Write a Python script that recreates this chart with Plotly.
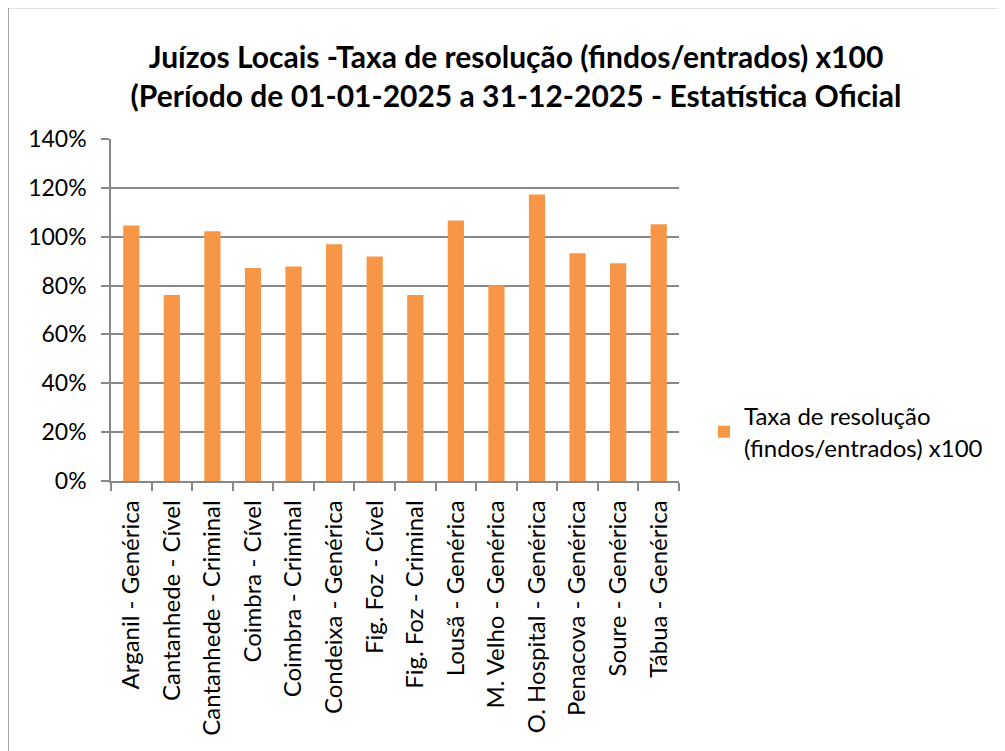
import plotly.graph_objects as go

categories = [
    "Arganil - Genérica", "Cantanhede - Cível", "Cantanhede - Criminal",
    "Coimbra - Cível", "Coimbra - Criminal", "Condeixa - Genérica",
    "Fig. Foz - Cível", "Fig. Foz - Criminal", "Lousã - Genérica",
    "M. Velho - Genérica", "O. Hospital - Genérica", "Penacova - Genérica",
    "Soure - Genérica", "Tábua - Genérica",
]
values = [1.046, 0.761, 1.022, 0.872, 0.878, 0.969, 0.919,
          0.761, 1.066, 0.801, 1.173, 0.932, 0.891, 1.051]
y_ticks = [0, 0.2, 0.4, 0.6, 0.8, 1.0, 1.2, 1.4]
y_tick_labels = ["0%", "20%", "40%", "60%", "80%", "100%", "120%", "140%"]
series_name = "Taxa de resolução<br>(findos/entrados) x100"
title_text = ("Juízos Locais -Taxa de resolução (findos/entrados) x100<br>"
              "(Período de 01-01-2025 a 31-12-2025 - Estatística Oficial")

OFF = 8  # page body margin
W, H = 1005 - OFF, 751 - OFF
L, R, T, B = 111 - OFF, 679 - OFF, 139 - OFF, 481 - OFF
font = "Lato, Calibri, sans-serif"
grid = "#888888"

fig = go.Figure()
fig.add_trace(go.Bar(
    x=categories, y=values, name=series_name,
    marker=dict(color="#F79646", line=dict(width=0)),
    showlegend=True,
))

fig.update_layout(
    width=W, height=H,
    margin=dict(l=L, r=W - R, t=T, b=H - B, pad=0),
    paper_bgcolor="white", plot_bgcolor="white",
    bargap=0.6,
    font=dict(family=font, size=23, color="#000000"),
    title=dict(text=title_text, x=(516 - OFF) / W,
               xanchor="center", y=1 - (68 - OFF) / H, yanchor="middle",
               font=dict(family=font, size=30, color="#000000", weight="bold")),
    xaxis=dict(
        type="category", tickangle=-90, tickson="boundaries",
        ticks="outside", ticklen=8, tickcolor=grid, tickwidth=1.5,
        showline=True, linecolor=grid, linewidth=1.5,
        showgrid=False, tickfont=dict(size=24), ticklabelstandoff=8,
    ),
    yaxis=dict(
        range=[0, 1.4], tickvals=y_ticks, ticktext=y_tick_labels,
        ticks="outside", ticklen=8, tickcolor=grid, tickwidth=1.5,
        showline=True, linecolor=grid, linewidth=1.5,
        showgrid=True, gridcolor=grid, gridwidth=1.5,
        zeroline=False, tickfont=dict(size=23), ticklabelstandoff=10,
    ),
    legend=dict(x=(704 - OFF - L) / (R - L), y=(B - (432 - OFF)) / (B - T),
                xanchor="left", yanchor="middle",
                font=dict(size=24), bgcolor="rgba(0,0,0,0)"),
    shapes=[dict(type="rect", xref="paper", yref="paper",
                 x0=(8 - OFF - L) / (R - L), x1=(1100 - L) / (R - L),
                 y0=(B - 800) / (B - T), y1=(B - (7.5 - OFF)) / (B - T),
                 line=dict(color="#888888", width=1.5), layer="below")],
)

fig.write_html("out.html")
